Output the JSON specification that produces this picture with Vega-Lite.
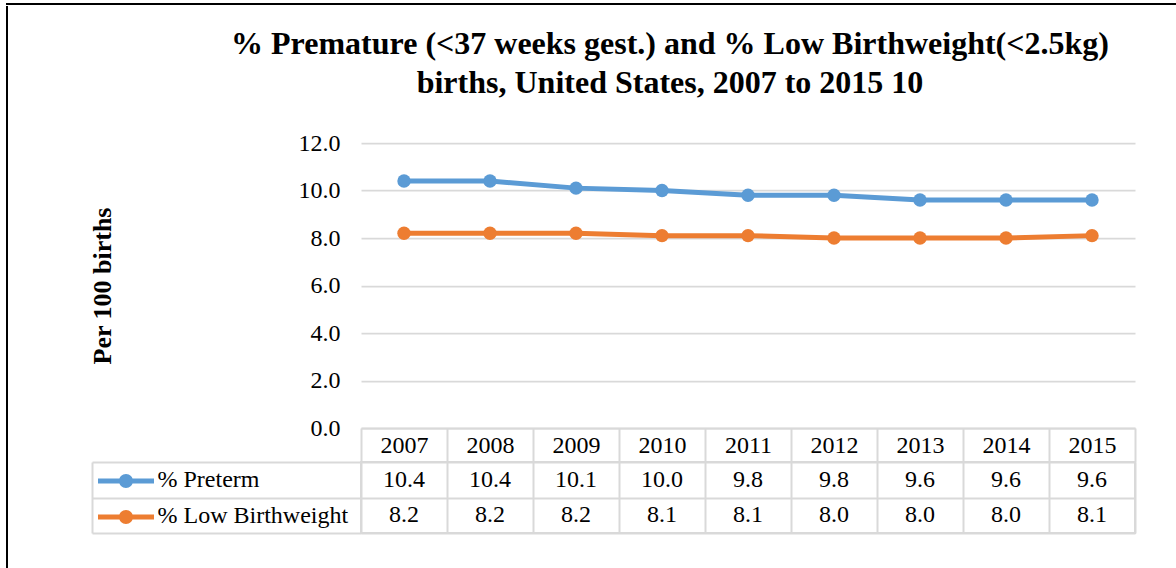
{
  "$schema": "https://vega.github.io/schema/vega-lite/v6.json",
  "padding": {"left": 6, "top": 3, "right": 0, "bottom": 0},
  "background": "#ffffff",
  "config": {
    "font": "Liberation Serif",
    "view": {"stroke": null},
    "axis": {"labelFont": "Liberation Serif", "labelColor": "#000000", "titleFont": "Liberation Serif", "titleColor": "#000000"}
  },
  "datasets": {
    "births": [
      {"year": 2007, "series": "% Preterm", "value": 10.4},
      {"year": 2008, "series": "% Preterm", "value": 10.4},
      {"year": 2009, "series": "% Preterm", "value": 10.1},
      {"year": 2010, "series": "% Preterm", "value": 10.0},
      {"year": 2011, "series": "% Preterm", "value": 9.8},
      {"year": 2012, "series": "% Preterm", "value": 9.8},
      {"year": 2013, "series": "% Preterm", "value": 9.6},
      {"year": 2014, "series": "% Preterm", "value": 9.6},
      {"year": 2015, "series": "% Preterm", "value": 9.6},
      {"year": 2007, "series": "% Low Birthweight", "value": 8.2},
      {"year": 2008, "series": "% Low Birthweight", "value": 8.2},
      {"year": 2009, "series": "% Low Birthweight", "value": 8.2},
      {"year": 2010, "series": "% Low Birthweight", "value": 8.1},
      {"year": 2011, "series": "% Low Birthweight", "value": 8.1},
      {"year": 2012, "series": "% Low Birthweight", "value": 8.0},
      {"year": 2013, "series": "% Low Birthweight", "value": 8.0},
      {"year": 2014, "series": "% Low Birthweight", "value": 8.0},
      {"year": 2015, "series": "% Low Birthweight", "value": 8.1}
    ]
  },
  "spacing": 0,
  "resolve": {"scale": {"color": "independent"}, "legend": {"color": "independent"}},
  "vconcat": [
    {
      "width": 1168, "height": 0.001,
      "data": {"values": []},
      "mark": {"type": "point", "opacity": 0},
      "view": {"stroke": "#000000", "strokeWidth": 2}
    },
    {
      "spacing": 80,
      "resolve": {"scale": {"color": "independent"}, "legend": {"color": "independent"}},
      "hconcat": [
        {
          "width": 0.001, "height": 561,
          "data": {"values": []},
          "mark": {"type": "point", "opacity": 0},
          "view": {"stroke": "#000000", "strokeWidth": 2}
        },
        {
          "spacing": 34,
          "bounds": "flush",
          "resolve": {"scale": {"color": "independent"}, "legend": {"color": "independent"}},
          "vconcat": [
            {
              "width": 774, "height": 101.5,
              "data": {"values": []},
              "mark": {"type": "point", "opacity": 0},
              "view": {"stroke": null}
            },
            {
              "width": 774,
              "height": 285,
              "title": {
                "text": ["% Premature (<37 weeks gest.) and % Low Birthweight(<2.5kg)", "births, United States,  2007 to 2015 10"],
                "font": "Liberation Serif", "fontSize": 32, "fontWeight": "bold", "color": "#000000",
                "lineHeight": 39, "anchor": "middle", "frame": "group", "offset": 31, "dx": -78
              },
              "data": {"name": "births"},
              "view": {"stroke": null},
              "encoding": {
                "x": {
                  "field": "year", "type": "ordinal",
                  "scale": {"paddingInner": 0, "paddingOuter": 0},
                  "axis": {
                    "title": null, "orient": "bottom", "domain": true, "domainColor": "#d9d9d9", "domainWidth": 2,
                    "ticks": true, "tickBand": "extent", "tickSize": 34, "tickColor": "#d9d9d9", "tickWidth": 2,
                    "labelAngle": 0, "labelBaseline": "middle", "labelPadding": -17, "labelFontSize": 24, "grid": false
                  }
                },
                "y": {
                  "field": "value", "type": "quantitative",
                  "scale": {"domain": [0, 12], "nice": false},
                  "axis": {
                    "title": "Per 100 births", "titleFontSize": 26, "titleFontWeight": "bold", "titlePadding": 183,
                    "values": [0, 2, 4, 6, 8, 10, 12], "format": ".1f", "labelFontSize": 24, "labelPadding": 21,
                    "ticks": false, "tickSize": 0, "domain": false, "grid": true, "gridColor": "#d9d9d9", "gridWidth": 1.75
                  }
                },
                "color": {
                  "field": "series", "type": "nominal",
                  "scale": {"domain": ["% Preterm", "% Low Birthweight"], "range": ["#5b9bd5", "#ed7d31"]},
                  "legend": {
                    "orient": "none", "legendX": -242, "legendY": 331, "title": null,
                    "symbolType": "M-4,-0.36L4,-0.36L4,0.36L-4,0.36Z M-1,0A1,1,0,1,1,1,0A1,1,0,1,1,-1,0Z",
                    "symbolSize": 196, "symbolStrokeWidth": 0, "labelOpacity": 0, "labelExpr": "''", "labelFontSize": 10, "rowPadding": 22,
                    "padding": 0,
                    "encode": {"symbols": {"update": {"fill": {"scale": "color", "field": "value"}, "opacity": {"value": 1}, "strokeWidth": {"value": 0}}}}
                  }
                }
              },
              "layer": [
                {"mark": {"type": "line", "strokeWidth": 5}},
                {"mark": {"type": "point", "filled": true, "size": 180, "opacity": 1}}
              ]
            },
            {
              "width": 774,
              "height": 71,
              "data": {"name": "births"},
              "view": {"stroke": "#d9d9d9", "strokeWidth": 2},
              "mark": {"type": "text", "fontSize": 24, "font": "Liberation Serif", "color": "#000000"},
              "encoding": {
                "x": {
                  "field": "year", "type": "ordinal",
                  "scale": {"paddingInner": 0, "paddingOuter": 0},
                  "axis": {"title": null, "labels": false, "ticks": false, "domain": false, "grid": true, "gridColor": "#d9d9d9", "gridWidth": 2, "tickBand": "extent"}
                },
                "y": {
                  "field": "series", "type": "nominal",
                  "sort": ["% Preterm", "% Low Birthweight"],
                  "scale": {"paddingInner": 0, "paddingOuter": 0},
                  "axis": {
                    "title": null, "orient": "left", "offset": 269, "domain": true, "domainColor": "#d9d9d9", "domainWidth": 2,
                    "ticks": true, "tickBand": "extent", "tickSize": -269, "tickColor": "#d9d9d9", "tickWidth": 2,
                    "labelAlign": "left", "labelPadding": 204, "labelFontSize": 24, "labelLimit": 0,
                    "grid": true, "gridColor": "#d9d9d9", "gridWidth": 2
                  }
                },
                "text": {"field": "value", "type": "quantitative", "format": ".1f"}
              }
            }
          ]
        }
      ]
    }
  ]
}
